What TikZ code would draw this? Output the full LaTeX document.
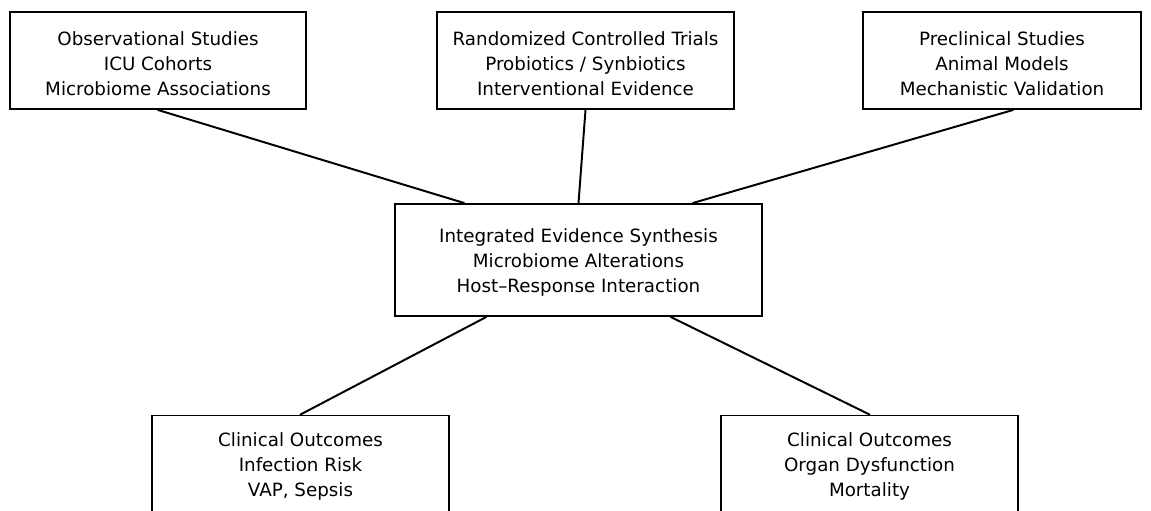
\documentclass[tikz,border=0pt]{standalone}
\usepackage{fontspec}
\setmainfont{DejaVu Sans}
\usetikzlibrary{calc}
\tikzset{
  source/.style={
    draw=black,
    line width=1.4pt,
    fill=white,
    minimum width=7.4cm,
    minimum height=2.425cm,
    align=center,
    inner sep=2pt,
    font=\fontsize{13}{17.8}\selectfont
  },
  synth/.style={source, minimum width=9.175cm, minimum height=2.8cm},
  link/.style={line width=1.4pt, line cap=round}
}
\newcommand{\topgap}{\rule{0pt}{14pt}}
\begin{document}
\begin{tikzpicture}[x=0.025cm, y=-0.025cm]
  \useasboundingbox (0,0) rectangle (1151,511);
  \node[source] (obs) at (158,60.5) {\topgap Observational Studies\\ICU Cohorts\\Microbiome Associations};
  \node[source] (rct) at (585.5,60.5) {\topgap Randomized Controlled Trials\\Probiotics / Synbiotics\\Interventional Evidence};
  \node[source, minimum width=6.95cm] (pre) at (1002,60.5) {\topgap Preclinical Studies\\Animal Models\\Mechanistic Validation};
  \node[synth] (syn) at (578.5,260) {\topgap Integrated Evidence Synthesis\\Microbiome Alterations\\Host--Response Interaction};
  \node[source] (inf) at (300.5,464) {\topgap Clinical Outcomes\\Infection Risk\\VAP, Sepsis};
  \node[source] (org) at (869.5,464) {\topgap Clinical Outcomes\\Organ Dysfunction\\Mortality};
  \draw[link] (obs.south) -- ($(syn.north west)!0.19!(syn.north east)$);
  \draw[link] (rct.south) -- ($(syn.north west)!0.5!(syn.north east)$);
  \draw[link] ($(pre.south)+(11,0)$) -- ($(syn.north west)!0.81!(syn.north east)$);
  \draw[link] ($(syn.south west)!0.25!(syn.south east)$) -- (inf.north);
  \draw[link] ($(syn.south west)!0.75!(syn.south east)$) -- (org.north);
\end{tikzpicture}
\end{document}
